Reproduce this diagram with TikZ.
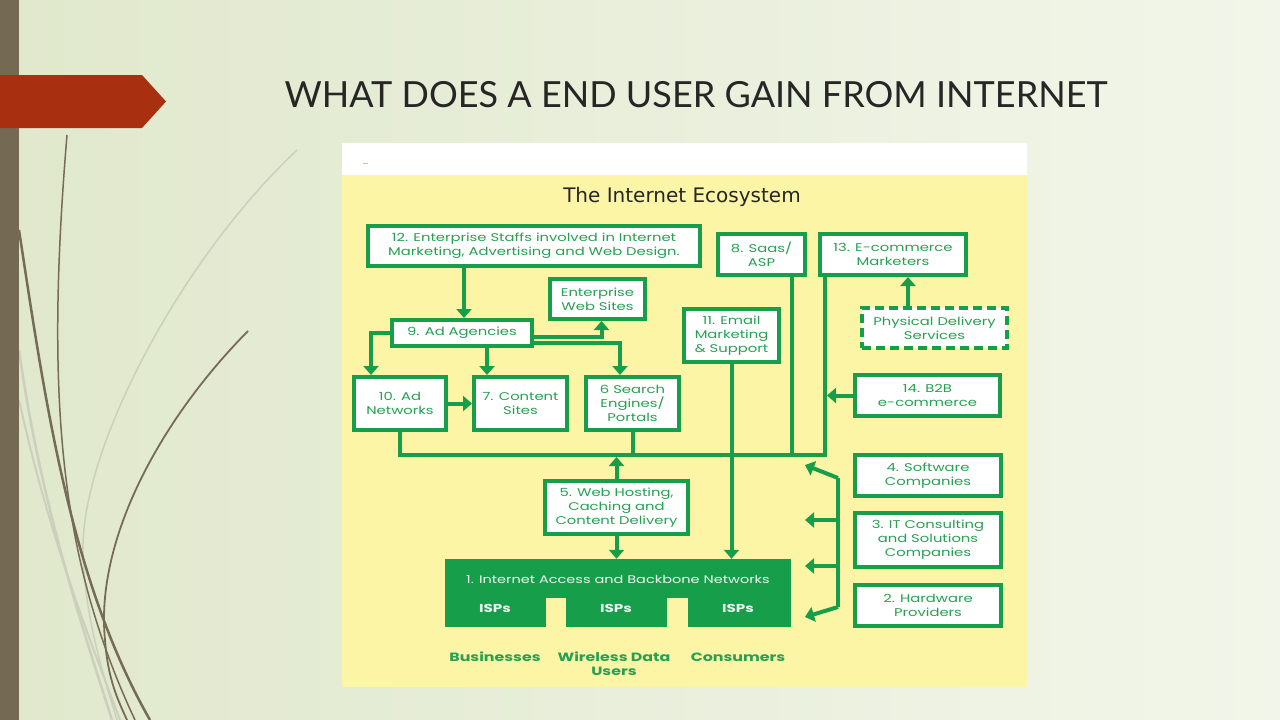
\documentclass[tikz,border=0pt]{standalone}
\usepackage{fontspec}
\setmainfont{Poppins}[FakeStretch=1.32]
\newfontfamily\titlefont{Lato}
\newfontfamily\headfont{DejaVu Sans}
\usetikzlibrary{arrows.meta}
\definecolor{bgL}{RGB}{224,232,204}
\definecolor{bgR}{RGB}{242,246,234}
\definecolor{barbrown}{RGB}{116,106,84}
\definecolor{tagred}{RGB}{168,48,16}
\definecolor{stem}{RGB}{118,108,85}
\definecolor{stemlight}{RGB}{203,208,188}
\definecolor{ecogreen}{RGB}{22,158,74}
\definecolor{ecotext}{RGB}{38,160,82}
\definecolor{ecoyellow}{RGB}{253,245,166}
\begin{document}
\begin{tikzpicture}[x=1pt,y=-1pt,
	eco/.style={draw=ecogreen,line width=4pt,fill=white,text=ecotext,align=center,inner sep=0pt,font=\fontsize{11.2}{14}\selectfont},
	link/.style={draw=ecogreen,line width=4pt},
	arr/.style={link,-{Triangle[width=15pt,length=9pt]}}]
		\useasboundingbox (0,0) rectangle (1280,720);
		\shade[left color=bgL,right color=bgR] (0,0) rectangle (1280,720);
		%stems
		\draw[stemlight,line width=2.5pt] (19,350) .. controls (40,500) and (80,620) .. (112,720);
		\draw[stemlight,line width=2pt] (19,400) .. controls (50,540) and (90,640) .. (120,720);
		\draw[stemlight,line width=1.5pt] (297,150) .. controls (180,260) and (80,450) .. (83,553) .. controls (85,620) and (105,680) .. (117,720);
		\draw[stem,line width=1.5pt] (67,135) .. controls (45,400) and (60,560) .. (135,720);
		\draw[stem,line width=2.5pt] (19,230) .. controls (45,400) and (70,580) .. (150,720);
		\draw[stem,line width=1.8pt] (248,331) .. controls (160,420) and (95,540) .. (105,640) .. controls (108,680) and (118,700) .. (127,720);
		\fill[barbrown] (0,0) rectangle (19,720);
		\fill[tagred] (0,75) -- (142,75) -- (166,101.5) -- (142,128) -- (0,128) -- cycle;
		\node[font=\titlefont\fontsize{36}{42}\selectfont,text=black!85] (title) at (696,95) {WHAT DOES A END USER GAIN FROM INTERNET};
		%diagram
		\fill[white] (342,143) rectangle (1027,175);
		\fill[ecoyellow] (342,175) rectangle (1027,687);
		\draw[gray!50] (363,163) -- (368,163);
		\node[font=\headfont\fontsize{20}{23}\selectfont,text=black!85] (eco) at (682,197) {The Internet Ecosystem};
		\node[eco,minimum width=332pt,minimum height=40pt] (staff) at (534,246) {12. Enterprise Staffs involved in Internet\\Marketing, Advertising and Web Design.};
		\node[eco,minimum width=87pt,minimum height=41pt] (saas) at (761.5,254.5) {8. Saas/\\ASP};
		\node[eco,minimum width=146pt,minimum height=41pt] (mkt) at (893,254.5) {13. E-commerce\\Marketers};
		\node[eco,minimum width=95pt,minimum height=40pt] (websites) at (597.5,299) {Enterprise\\Web Sites};
		\node[eco,minimum width=140pt,minimum height=26pt] (agency) at (462,333) {9. Ad Agencies};
		\node[eco,minimum width=95pt,minimum height=53pt] (mail) at (731.5,335.5) {11. Email\\Marketing\\\& Support};
		\node[eco,dash pattern=on 9pt off 5pt,minimum width=145pt,minimum height=40pt] (phys) at (934.5,328) {Physical Delivery\\Services};
		\node[eco,minimum width=92pt,minimum height=53pt] (adnet) at (400,403.5) {10. Ad\\Networks};
		\node[eco,minimum width=93pt,minimum height=53pt] (content) at (520.5,403.5) {7. Content\\Sites};
		\node[eco,minimum width=93pt,minimum height=53pt] (search) at (632.5,403.5) {6 Search\\Engines/\\Portals};
		\node[eco,minimum width=145pt,minimum height=41pt] (b2b) at (927.5,395.5) {14. B2B\\e-commerce};
		\node[eco,minimum width=146pt,minimum height=41pt] (soft) at (928,475.5) {4. Software\\Companies};
		\node[eco,minimum width=146pt,minimum height=54pt] (consult) at (928,540) {3. IT Consulting\\and Solutions\\Companies};
		\node[eco,minimum width=146pt,minimum height=41pt] (hard) at (928,605.5) {2. Hardware\\Providers};
		\node[eco,minimum width=143pt,minimum height=53pt] (host) at (616.5,507.5) {5. Web Hosting,\\Caching and\\Content Delivery};
		\node[fill=ecogreen,minimum width=346pt,minimum height=68pt,inner sep=0pt] (isp) at (618,593) {};
		\fill[ecoyellow] (546,598) rectangle (566,628);
		\fill[ecoyellow] (667,598) rectangle (688,628);
		\node[text=white!92!ecogreen,font=\fontsize{11}{14}\selectfont] (ispname) at (618,579) {1. Internet Access and Backbone Networks};
		\foreach \x/\n in {495/ispa,616/ispb,738/ispc}
		\node[text=white!92!ecogreen,font=\bfseries\fontsize{11.5}{14}\selectfont] (\n) at (\x,608) {ISPs};
		\node[text=ecotext,font=\bfseries\fontsize{12}{14}\selectfont] (biz) at (495,657) {Businesses};
		\node[text=ecotext,font=\bfseries\fontsize{12}{14}\selectfont,align=center] (wire) at (614,664) {Wireless Data\\Users};
		\node[text=ecotext,font=\bfseries\fontsize{12}{14}\selectfont] (cons) at (738,657) {Consumers};
		%connectors
		\coordinate (busR) at (825,455);
		\draw[arr] ([xshift=2pt]agency.north |- staff.south) -- ([xshift=2pt]agency.north);
		\draw[arr] (agency.west) -| ([xshift=-29pt]adnet.north);
		\draw[arr] ([xshift=25pt]agency.south) -- ([xshift=25pt]agency.south |- content.north);
		\draw[arr] ([yshift=-4pt]agency.east) -| ([xshift=4pt]websites.south);
		\draw[arr] ([yshift=-10pt]agency.east) -| ([xshift=-12.5pt]search.north);
		\draw[arr] (adnet.east) -- (content.west);
		\draw[link] (adnet.south) |- (busR) -- (busR |- mkt.south);
		\draw[link] (search.south) -- (search.south |- busR);
		\draw[link] ([xshift=30.5pt]saas.south) -- ([xshift=30.5pt]saas.south |- busR);
		\draw[arr] (mail.south) -- (mail.south |- isp.north);
		\draw[arr,shorten >=2pt] (host.north) -- (host.north |- busR);
		\draw[arr] (host.south) -- (host.south |- isp.north);
		\draw[arr,shorten >=2pt] (b2b.west) -- (b2b.west -| busR);
		\draw[arr] ([xshift=-26.5pt]phys.north) -- ([xshift=-26.5pt]phys.north |- mkt.south);
		%bracket
		\coordinate (brT) at (838,478);
		\coordinate (brB) at (838,607);
		\coordinate (tipT) at (805,465);
		\coordinate (tipB) at (805,617);
		\draw[link] (brT) -- (brB);
		\draw[arr] (brT) -- (tipT);
		\draw[arr] (brB) -- (tipB);
		\foreach \y/\n in {520/tipM,566/tipN}{
		\coordinate (\n) at (805,\y);
		\draw[arr] (brT |- \n) -- (\n);}
\end{tikzpicture}
\end{document}
